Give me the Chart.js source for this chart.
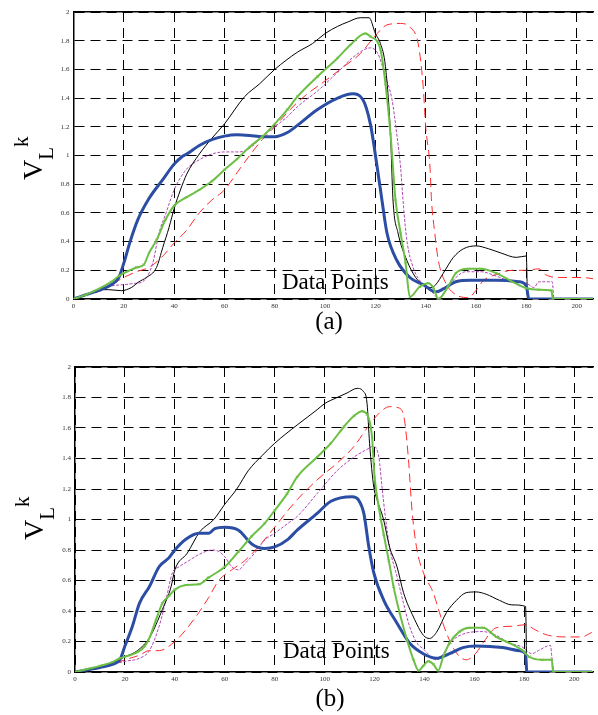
<!DOCTYPE html>
<html>
<head>
<meta charset="utf-8">
<script src="https://cdn.jsdelivr.net/npm/chart.js@4.4.1/dist/chart.umd.min.js"></script>
<style>
  html, body { margin: 0; padding: 0; background: #fff; }
  #wrap { position: relative; width: 598px; height: 715px; overflow: hidden; }
  canvas { position: absolute; left: 0; }
</style>
</head>
<body>
<div id="wrap">
  <canvas id="chartA" width="598" height="340" style="top:0"></canvas>
  <canvas id="chartB" width="598" height="375" style="top:340px"></canvas>
</div>
<script>
// ---- panel (a) ----
const aBlackX = [0, 5, 10, 14, 19, 23, 26, 29, 33, 35.5, 38, 40, 42.5, 45, 50, 55, 60, 68, 74, 80, 89, 95, 100, 105, 109, 114, 117.5, 120, 122, 124, 126, 127, 129, 132.5, 136, 139, 142, 144, 147, 151, 155, 160, 165, 170, 176, 180, 180.5, 207];
const aBlackY = [0, 0.03, 0.065, 0.065, 0.058, 0.08, 0.12, 0.15, 0.22, 0.36, 0.5, 0.63, 0.76, 0.87, 1.01, 1.12, 1.22, 1.41, 1.5, 1.6, 1.72, 1.78, 1.85, 1.9, 1.93, 1.96, 1.96, 1.85, 1.78, 1.62, 1.15, 0.69, 0.46, 0.27, 0.15, 0.1, 0.08, 0.1, 0.18, 0.29, 0.35, 0.37, 0.35, 0.32, 0.29, 0.3, 0, 0];

const aBlueX = [0, 5, 10, 15, 18, 20, 22.5, 25.5, 30, 35.4, 40, 43, 45, 50, 55, 60, 65, 70, 75, 80, 85, 89, 97, 105, 111, 115, 118, 120.7, 122.6, 124.6, 128.5, 133.7, 139, 144, 147, 152, 158, 168, 177, 180, 181, 207];
const aBlueY = [0, 0.03, 0.06, 0.1, 0.15, 0.25, 0.4, 0.55, 0.7, 0.83, 0.94, 0.99, 1.01, 1.07, 1.11, 1.135, 1.145, 1.14, 1.13, 1.13, 1.16, 1.21, 1.32, 1.4, 1.43, 1.39, 1.22, 0.92, 0.69, 0.46, 0.27, 0.15, 0.1, 0.05, 0.07, 0.12, 0.13, 0.13, 0.12, 0.09, 0, 0];

const aGreenX = [0, 5, 10, 15, 18, 20, 25, 28, 30, 33, 36.5, 40, 45, 50, 55, 60, 65, 70, 75, 80, 85, 89, 97, 105, 110, 116, 118, 122, 124, 126, 128, 130, 132, 133.7, 137.6, 141, 143, 145, 149, 152, 157, 162, 168, 174.5, 180, 185, 190, 190.5, 207];
const aGreenY = [0, 0.03, 0.07, 0.12, 0.16, 0.18, 0.22, 0.24, 0.32, 0.41, 0.55, 0.65, 0.71, 0.76, 0.82, 0.9, 0.975, 1.06, 1.13, 1.22, 1.32, 1.41, 1.55, 1.68, 1.77, 1.85, 1.83, 1.74, 1.5, 1.15, 0.69, 0.46, 0.25, 0.015, 0.085, 0.11, 0.08, 0, 0.09, 0.18, 0.21, 0.21, 0.18, 0.12, 0.075, 0.065, 0.06, 0, 0];

const aMagentaX = [0, 5, 10, 15, 20, 25, 27.5, 31.5, 34, 36.8, 40, 44.7, 50, 55, 60, 66, 70, 75, 80, 85, 89, 97, 105, 111.5, 118, 121, 124, 126.6, 128.5, 130, 131.2, 132.5, 135, 139, 143, 145, 148, 152, 156, 162, 168, 174.5, 180, 183, 185, 189, 190.3, 191, 207];
const aMagentaY = [0, 0.03, 0.05, 0.09, 0.1, 0.11, 0.12, 0.25, 0.46, 0.6, 0.76, 0.9, 0.97, 1.01, 1.025, 1.025, 1.05, 1.13, 1.2, 1.27, 1.34, 1.45, 1.58, 1.69, 1.75, 1.71, 1.55, 1.39, 1.15, 0.92, 0.64, 0.41, 0.22, 0.1, 0.04, 0.005, 0.06, 0.15, 0.19, 0.19, 0.16, 0.12, 0.11, 0.08, 0.12, 0.12, 0.12, 0, 0];

const aRedX = [0, 5, 10, 15, 20, 25, 30, 35, 40, 45, 50, 55, 60, 65, 70, 75, 80, 85, 89, 93, 100, 107.5, 114, 120.7, 124.6, 130, 134, 137, 139, 140, 141.7, 142.3, 143.6, 145, 148, 152, 157, 160, 163, 168, 174.5, 180, 185, 187.6, 193, 202, 207];
const aRedY = [0, 0.03, 0.06, 0.1, 0.15, 0.19, 0.22, 0.29, 0.39, 0.48, 0.6, 0.69, 0.76, 0.88, 1.0, 1.11, 1.2, 1.3, 1.37, 1.43, 1.52, 1.62, 1.71, 1.85, 1.91, 1.92, 1.89, 1.78, 1.48, 1.2, 0.92, 0.69, 0.46, 0.27, 0.11, 0.03, 0.01, 0.06, 0.13, 0.17, 0.2, 0.2, 0.21, 0.17, 0.15, 0.15, 0.14];

// ---- panel (b) ----
const bBlackX = [0, 5, 10, 15, 20, 25, 30, 35, 38.5, 40, 45, 50, 55.6, 60, 64.8, 69.4, 75, 80, 89, 97, 100, 105, 109, 113, 115.5, 117, 118, 119.7, 121, 123.6, 126, 129, 131.6, 135.6, 139.6, 142, 144.8, 148.8, 152.8, 156.7, 160.7, 164.7, 170, 175, 180.5, 181, 207];
const bBlackY = [0, 0.015, 0.03, 0.06, 0.1, 0.14, 0.23, 0.41, 0.56, 0.67, 0.78, 0.92, 1.0, 1.1, 1.2, 1.32, 1.42, 1.5, 1.62, 1.72, 1.76, 1.8, 1.83, 1.86, 1.84, 1.76, 1.5, 1.21, 1.13, 1.0, 0.82, 0.69, 0.52, 0.36, 0.24, 0.22, 0.26, 0.39, 0.47, 0.52, 0.525, 0.51, 0.47, 0.44, 0.43, 0, 0];

const bBlueX = [0, 5, 10, 15, 18, 20, 23, 25.8, 29.8, 33.7, 37.7, 40, 44.4, 49.6, 53.6, 56, 60, 65.5, 70.8, 76, 80, 85.3, 89, 97, 102.5, 111, 113.5, 115.7, 117.7, 119.7, 123.7, 129, 134, 139.5, 144.8, 150, 155.4, 160.7, 171.3, 178, 180.5, 181, 207];
const bBlueY = [0, 0.015, 0.03, 0.05, 0.08, 0.17, 0.3, 0.45, 0.56, 0.69, 0.75, 0.8, 0.87, 0.91, 0.91, 0.94, 0.95, 0.93, 0.84, 0.81, 0.82, 0.87, 0.93, 1.04, 1.12, 1.15, 1.13, 1.04, 0.82, 0.65, 0.47, 0.32, 0.19, 0.12, 0.09, 0.12, 0.16, 0.17, 0.16, 0.14, 0.12, 0, 0];

const bGreenX = [0, 5, 10, 15, 18, 20, 25, 28, 30, 32.4, 35, 37.7, 40, 44.4, 49.6, 53.6, 60, 65.5, 70.8, 76, 80, 85, 89, 97, 102.5, 107.8, 111.8, 115, 117, 119, 120, 121.7, 123.7, 125.7, 127.6, 130, 133, 135.6, 137.6, 139.5, 141.5, 143.6, 145.5, 147.5, 150, 154, 158, 163.5, 168.7, 174, 179, 182, 187, 191, 191.5, 207];
const bGreenY = [0, 0.02, 0.04, 0.065, 0.09, 0.1, 0.13, 0.17, 0.23, 0.34, 0.45, 0.5, 0.54, 0.57, 0.575, 0.62, 0.69, 0.79, 0.89, 0.975, 1.06, 1.17, 1.28, 1.41, 1.5, 1.61, 1.68, 1.71, 1.69, 1.54, 1.28, 1.08, 0.9, 0.73, 0.56, 0.39, 0.21, 0.08, 0.01, 0.04, 0.07, 0.05, 0.01, 0.1, 0.19, 0.265, 0.29, 0.29, 0.23, 0.19, 0.145, 0.1, 0.08, 0.08, 0, 0];

const bMagentaX = [0, 5, 10, 15, 20, 25.8, 29.8, 33.7, 36.4, 39, 41.7, 45.6, 49.6, 55, 57.7, 60, 62.8, 65.5, 68, 72, 76, 80, 85.3, 89, 97, 105, 111.8, 117, 119.4, 121.7, 123, 124.3, 126, 129, 131.6, 134, 137, 139.6, 144.8, 147.5, 151.5, 156.7, 163.4, 168.7, 174, 179, 183, 185.6, 190.5, 191, 192, 207];
const bMagentaY = [0, 0.015, 0.03, 0.05, 0.07, 0.09, 0.14, 0.3, 0.47, 0.65, 0.69, 0.73, 0.77, 0.8, 0.79, 0.755, 0.69, 0.67, 0.71, 0.78, 0.865, 0.91, 0.975, 1.02, 1.17, 1.32, 1.41, 1.46, 1.48, 1.41, 1.21, 1.02, 0.82, 0.625, 0.45, 0.3, 0.19, 0.15, 0.08, 0.12, 0.21, 0.255, 0.265, 0.24, 0.19, 0.165, 0.12, 0.14, 0.175, 0.1, 0, 0];

const bRedX = [0, 5, 10, 15, 20, 25.8, 29.8, 33.7, 40, 44.3, 49.6, 53.6, 57.6, 62.8, 68, 73.4, 80, 85.3, 89, 97, 105, 111.8, 117, 122, 126, 130, 132, 133.6, 135, 137, 139.6, 143.5, 146, 148.8, 152.8, 156.7, 160.7, 163.4, 168.7, 175, 180.5, 184.5, 189.7, 197.7, 203, 207];
const bRedY = [0, 0.015, 0.03, 0.05, 0.08, 0.11, 0.14, 0.14, 0.2, 0.275, 0.39, 0.49, 0.6, 0.67, 0.73, 0.82, 0.95, 1.06, 1.13, 1.26, 1.37, 1.48, 1.6, 1.7, 1.74, 1.73, 1.65, 1.39, 1.06, 0.8, 0.65, 0.52, 0.39, 0.255, 0.125, 0.08, 0.125, 0.19, 0.29, 0.3, 0.31, 0.275, 0.24, 0.23, 0.23, 0.26];

const xTicks = [0, 20, 40, 60, 80, 100, 120, 140, 160, 180, 200];
const yTicks = [0, 0.2, 0.4, 0.6, 0.8, 1, 1.2, 1.4, 1.6, 1.8, 2];

const serif = '"Liberation Serif", "Times New Roman", serif';

// line looks, kept apart from the numbers
const looks = {
  red:     { borderColor: '#ff2b2b', borderWidth: 1, borderDash: [9, 5], order: 4 },
  magenta: { borderColor: '#b048b6', borderWidth: 1, borderDash: [3, 1.5], order: 3 },
  black:   { borderColor: '#000000', borderWidth: 1, order: 2 },
  blue:    { borderColor: '#2b4da3', borderWidth: 3, order: 1 },
  green:   { borderColor: '#6cbf45', borderWidth: 2, order: 0,
             pointStyle: 'crossRot', pointRadius: 1.6, pointBorderWidth: 1, pointBorderColor: '#6cbf45' }
};

const zip = (xs, ys) => xs.map((x, i) => ({ x: x, y: ys[i] }));

function series(name, xs, ys) {
  return Object.assign({
    label: name,
    data: zip(xs, ys),
    fill: false,
    pointRadius: 0,
    cubicInterpolationMode: 'monotone'
  }, looks[name]);
}

// plain tick text: 0, 0.2 ... 1, ... 2
const tickText = v => String(Math.round(v * 10) / 10);

// V_L^k written sideways, plus the in-plot axis caption and panel letter
const annotate = {
  id: 'annotate',
  afterDraw(chart, args, opts) {
    const ctx = chart.ctx;
    ctx.save();
    ctx.fillStyle = '#000';
    ctx.textBaseline = 'alphabetic';

    ctx.font = '23px ' + serif;
    ctx.textAlign = 'left';
    ctx.fillText('Data Points', opts.xTitle[0], opts.xTitle[1]);

    ctx.font = '25px ' + serif;
    ctx.textAlign = 'center';
    ctx.fillText(opts.caption, opts.captionAt[0], opts.captionAt[1]);

    ctx.translate(opts.yTitle[0], opts.yTitle[1]);
    ctx.rotate(-Math.PI / 2);
    ctx.textAlign = 'left';
    ctx.font = '28px ' + serif;
    ctx.fillText('V', 0, 0);
    let w = ctx.measureText('V').width;
    ctx.font = '21px ' + serif;
    ctx.fillText('L', w, 11);
    w += ctx.measureText('L').width;
    ctx.fillText('k', w, -14);
    ctx.restore();
  }
};

function makeChart(id, sets, p) {
  return new Chart(document.getElementById(id), {
    type: 'line',
    data: { datasets: sets },
    plugins: [annotate],
    options: {
      responsive: false,
      animation: false,
      layout: { padding: { top: p.top, left: 0, right: 0, bottom: 0 } },
      plugins: {
        legend: { display: false },
        tooltip: { enabled: false },
        annotate: { xTitle: p.xTitle, caption: p.caption, captionAt: p.captionAt, yTitle: p.yTitle }
      },
      scales: {
        x: {
          type: 'linear',
          min: 0,
          max: p.xMax,
          afterFit: s => { s.height = p.xAxisH; },
          afterBuildTicks: s => { s.ticks = xTicks.map(v => ({ value: v })); },
          ticks: { font: { family: serif, size: 7 }, color: '#333', padding: 3, maxRotation: 0, autoSkip: false, callback: tickText },
          grid: { color: '#000', lineWidth: 1, drawTicks: false },
          border: { display: true, color: '#000', width: 1.5, dash: [10, 6] }
        },
        xTop: {
          type: 'linear',
          position: 'top',
          afterFit: s => { s.height = 0; },
          ticks: { display: false },
          grid: { display: false, drawTicks: false },
          border: { display: true, color: '#000', width: 1.5 }
        },
        y: {
          min: 0,
          max: 2,
          afterFit: s => { s.width = p.yAxisW; },
          afterBuildTicks: s => { s.ticks = yTicks.map(v => ({ value: v })); },
          ticks: { font: { family: serif, size: 7 }, color: '#333', padding: 4, callback: tickText },
          grid: { color: '#000', lineWidth: 1, drawTicks: false },
          border: { display: true, color: '#000', width: 1.5, dash: [10, 6] }
        }
      }
    }
  });
}

makeChart('chartA', [
  series('black', aBlackX, aBlackY),
  series('red', aRedX, aRedY),
  series('magenta', aMagentaX, aMagentaY),
  series('green', aGreenX, aGreenY),
  series('blue', aBlueX, aBlueY)
], {
  top: 12, xAxisH: 41, yAxisW: 73.5, xMax: 206.5,
  xTitle: [282, 289], caption: '(a)', captionAt: [329, 329], yTitle: [42, 180]
});

makeChart('chartB', [
  series('black', bBlackX, bBlackY),
  series('red', bRedX, bRedY),
  series('magenta', bMagentaX, bMagentaY),
  series('green', bGreenX, bGreenY),
  series('blue', bBlueX, bBlueY)
], {
  top: 27, xAxisH: 43, yAxisW: 75, xMax: 207.5,
  xTitle: [283, 318], caption: '(b)', captionAt: [330, 366], yTitle: [43, 200]
});
</script>
</body>
</html>
